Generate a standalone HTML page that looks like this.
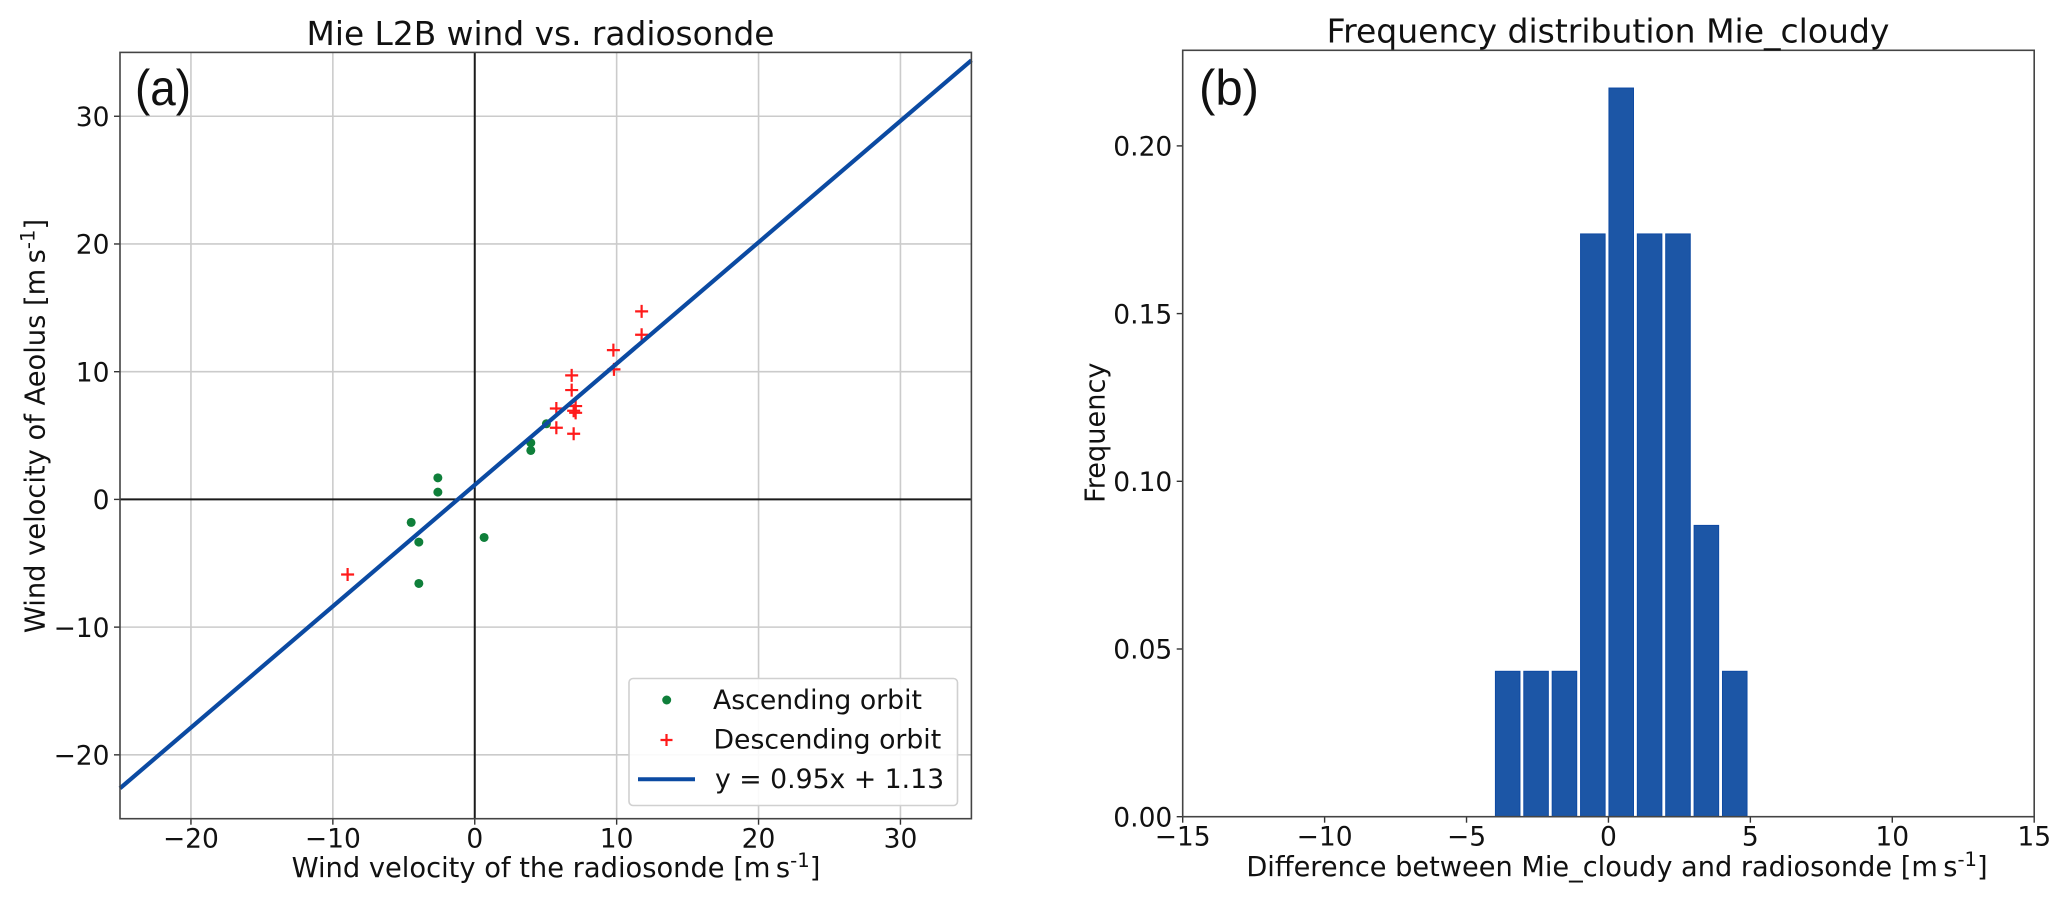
<!DOCTYPE html>
<html lang="en">
<head>
<meta charset="utf-8">
<title>Mie L2B wind vs. radiosonde</title>
<style>
html,body{margin:0;padding:0;background:#fff;width:2067px;height:902px;overflow:hidden}
svg{display:block;filter:blur(0.35px)}
text{font-family:"DejaVu Sans","Liberation Sans",sans-serif;fill:#111}
</style>
</head>
<body>
<svg id="figure" xmlns="http://www.w3.org/2000/svg" width="2067" height="902" viewBox="0 0 2067 902"></svg>
<script>
// Panel (a) data
const ascendingX = [-2.60, -2.60, -4.48, -3.94, -3.94, 0.66, 3.95, 3.95, 5.05];
const ascendingY = [1.69, 0.57, -1.80, -3.34, -6.58, -2.98, 4.43, 3.83, 5.92];
const descendingX = [-8.96, 5.75, 5.75, 6.83, 6.83, 7.11, 6.97, 7.11, 6.97, 9.77, 9.81, 11.76, 11.76];
const descendingY = [-5.88, 7.12, 5.61, 9.71, 8.56, 7.31, 6.94, 6.78, 5.14, 11.69, 10.18, 14.72, 12.89];
const fitSlope = 0.95;
const fitIntercept = 1.13;
const scatterTicksX = [-20, -10, 0, 10, 20, 30];
const scatterTicksY = [-20, -10, 0, 10, 20, 30];
const scatterDomainX = [-25, 35];
const scatterDomainY = [-25, 35];

// Panel (b) data
const binLeftEdges = [-4, -3, -2, -1, 0, 1, 2, 3, 4];
const binFrequency = [0.0435, 0.0435, 0.0435, 0.1739, 0.2174, 0.1739, 0.1739, 0.0870, 0.0435];
const binWidth = 0.9;
const histTicksX = [-15, -10, -5, 0, 5, 10, 15];
const histTicksY = [0.00, 0.05, 0.10, 0.15, 0.20];
const histDomainX = [-15, 15];
const histDomainY = [0, 0.2285];

const NS = 'http://www.w3.org/2000/svg';
const svg = document.getElementById('figure');
function mk(tag, attrs, parent) {
  const el = document.createElementNS(NS, tag);
  for (const k in attrs) el.setAttribute(k, attrs[k]);
  (parent || svg).appendChild(el);
  return el;
}
function fmt(v) { return String(v).replace('-', '\u2212'); }

// Axis functions
const A = { l: 120, r: 971.4, t: 52.4, b: 818.7 };
const B = { l: 1182.7, r: 2034.2, t: 50.3, b: 816.7 };
function ax(v) { return A.l + (v - scatterDomainX[0]) / (scatterDomainX[1] - scatterDomainX[0]) * (A.r - A.l); }
function ay(v) { return A.b - (v - scatterDomainY[0]) / (scatterDomainY[1] - scatterDomainY[0]) * (A.b - A.t); }
function bx(v) { return B.l + (v - histDomainX[0]) / (histDomainX[1] - histDomainX[0]) * (B.r - B.l); }
function by(v) { return B.b - (v - histDomainY[0]) / (histDomainY[1] - histDomainY[0]) * (B.b - B.t); }

function rule(x1, y1, x2, y2, color, w, name) {
  const el = mk('line', { x1: x1, y1: y1, x2: x2, y2: y2, stroke: color, 'stroke-width': w });
  
  
  return el;
}
function label(x, y, size, anchor, txt, name) {
  const el = mk('text', { x: x, y: y, 'font-size': size, 'text-anchor': anchor });
  el.textContent = txt;
  
  
  return el;
}
function unitLabel(x, y, size, anchor, main, name, rotate) {
  const el = mk('text', { x: x, y: y, 'font-size': size, 'text-anchor': anchor });
  if (rotate) el.setAttribute('transform', 'rotate(-90 ' + x + ' ' + y + ')');
  
  
  el.appendChild(document.createTextNode(main + ' [m\u2009s'));
  const sup = mk('tspan', { dy: -10, 'font-size': size * 0.72 }, el);
  sup.textContent = '-1';
  const end = mk('tspan', { dy: 10 }, el);
  end.textContent = ']';
  return el;
}

// ---------- Panel (a) ----------
mk('rect', { x: A.l, y: A.t, width: A.r - A.l, height: A.b - A.t, fill: '#fff' });
scatterTicksX.forEach(function (v) {
  if (v !== 0) rule(ax(v), A.t, ax(v), A.b, '#cbcbcb', 1.6, 'x-gridline');
  rule(ax(v), A.b, ax(v), A.b + 6, '#333', 1.4, 'x-tick');
  label(ax(v), 847.7, 26.5, 'middle', fmt(v), 'x-tick-label');
});
scatterTicksY.forEach(function (v) {
  if (v !== 0) rule(A.l, ay(v), A.r, ay(v), '#cbcbcb', 1.6, 'y-gridline');
  rule(A.l - 6, ay(v), A.l, ay(v), '#333', 1.4, 'y-tick');
  label(109.5, ay(v) + 9.7, 26.5, 'end', fmt(v), 'y-tick-label');
});
rule(ax(0), A.t, ax(0), A.b, '#1a1a1a', 2, 'vertical-zero-line');
rule(A.l, ay(0), A.r, ay(0), '#1a1a1a', 2, 'horizontal-zero-line');

ascendingX.forEach(function (x, i) {
  const c = mk('circle', { cx: ax(x), cy: ay(ascendingY[i]), r: 4.5, fill: '#0f7f3a' });
  
  
});
descendingX.forEach(function (x, i) {
  const px = ax(x), py = ay(descendingY[i]);
  const p = mk('path', { d: 'M' + (px - 6.5) + ' ' + py + 'H' + (px + 6.5) + 'M' + px + ' ' + (py - 6.5) + 'V' + (py + 6.5), stroke: '#ff1a1a', 'stroke-width': 2.2, fill: 'none' });
  
  
});
const fitX0 = scatterDomainX[0], fitX1 = scatterDomainX[1];
rule(ax(fitX0), ay(fitSlope * fitX0 + fitIntercept), ax(fitX1), ay(fitSlope * fitX1 + fitIntercept), '#0b4aa2', 4.2, 'regression-line');

const frameA = mk('rect', { x: A.l, y: A.t, width: A.r - A.l, height: A.b - A.t, fill: 'none', stroke: '#444', 'stroke-width': 1.6 });



label(540.5, 45, 32.8, 'middle', 'Mie L2B wind vs. radiosonde', 'scatter-title');
unitLabel(556, 877, 27.3, 'middle', 'Wind velocity of the radiosonde', 'scatter-x-axis-title', false);
unitLabel(44.5, 426, 27.3, 'middle', 'Wind velocity of Aeolus', 'scatter-y-axis-title', true);
const panelA = label(135, 105, 50, 'start', '(a)', 'panel-label-a');
panelA.setAttribute('style', 'font-family:"Liberation Sans",sans-serif');
panelA.setAttribute('textLength', '56');
panelA.setAttribute('lengthAdjust', 'spacingAndGlyphs');

// Legend
const lg = mk('g', {});


const lgBox = mk('rect', { x: 629, y: 678.5, width: 328.5, height: 127, rx: 4, fill: '#fff', 'fill-opacity': 0.9, stroke: '#d0d0d0', 'stroke-width': 1.6 }, lg);


const lgAsc = mk('circle', { cx: 666.7, cy: 700, r: 4.5, fill: '#0f7f3a' }, lg);


const lgDesc = mk('path', { d: 'M660.5 740H672.5M666.5 734V746', stroke: '#ff1a1a', 'stroke-width': 2.2, fill: 'none' }, lg);


const lgLine = mk('line', { x1: 638, y1: 779.3, x2: 695, y2: 779.3, stroke: '#0b4aa2', 'stroke-width': 4 }, lg);


[['Ascending orbit', 709, 'legend-ascending-label', 713], ['Descending orbit', 748.5, 'legend-descending-label', 713.5], ['y = ' + fitSlope.toFixed(2) + 'x + ' + fitIntercept.toFixed(2), 788, 'legend-fit-label', 715]].forEach(function (e) {
  const t = mk('text', { x: e[3], y: e[1], 'font-size': 26.7 }, lg);
  t.textContent = e[0];
  
  
});

// ---------- Panel (b) ----------
mk('rect', { x: B.l, y: B.t, width: B.r - B.l, height: B.b - B.t, fill: '#fff' });
binLeftEdges.forEach(function (x, i) {
  const f = binFrequency[i];
  const r = mk('rect', { x: bx(x) + 0.5, y: by(f) + 0.5, width: bx(x + binWidth) - bx(x) - 1, height: by(0) - by(f) - 0.5, fill: '#1c56a6', stroke: '#0e4aa3', 'stroke-width': 1 });
  
  
});
histTicksX.forEach(function (v) {
  rule(bx(v), B.b, bx(v), B.b + 6, '#333', 1.4, 'hist-x-tick');
  label(bx(v), 845.7, 26.5, 'middle', fmt(v), 'hist-x-tick-label');
});
histTicksY.forEach(function (v) {
  rule(B.l - 6, by(v), B.l, by(v), '#333', 1.4, 'hist-y-tick');
  label(1172.3, by(v) + 9.7, 26.5, 'end', v.toFixed(2), 'hist-y-tick-label');
});
const frameB = mk('rect', { x: B.l, y: B.t, width: B.r - B.l, height: B.b - B.t, fill: 'none', stroke: '#444', 'stroke-width': 1.6 });



label(1608, 42.7, 33, 'middle', 'Frequency distribution Mie_cloudy', 'histogram-title');
unitLabel(1617, 876, 27.2, 'middle', 'Difference between Mie_cloudy and radiosonde', 'histogram-x-axis-title', false);
const freqLabel = label(1104.5, 432.7, 27.2, 'middle', 'Frequency', 'histogram-y-axis-title');
freqLabel.setAttribute('transform', 'rotate(-90 1104.5 432.7)');
const panelB = label(1199, 105, 50, 'start', '(b)', 'panel-label-b');
panelB.setAttribute('style', 'font-family:"Liberation Sans",sans-serif');
panelB.setAttribute('textLength', '60');
panelB.setAttribute('lengthAdjust', 'spacingAndGlyphs');
</script>
</body>
</html>
